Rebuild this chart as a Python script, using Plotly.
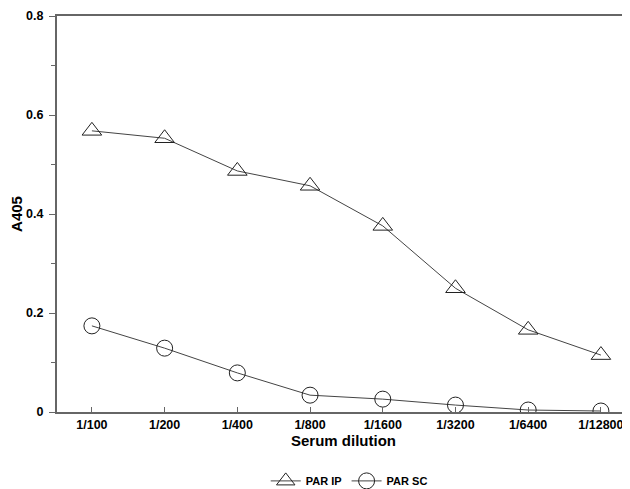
import plotly.graph_objects as go

categories = ["1/100", "1/200", "1/400", "1/800", "1/1600", "1/3200", "1/6400", "1/12800"]
par_ip = [0.568, 0.553, 0.487, 0.457, 0.376, 0.250, 0.166, 0.115]
par_sc = [0.174, 0.129, 0.079, 0.034, 0.026, 0.014, 0.004, 0.002]
y_ticks = [0, 0.2, 0.4, 0.6, 0.8]
y_tick_labels = ["0", "0.2", "0.4", "0.6", "0.8"]

FONT = "Liberation Sans, Arial, sans-serif"

fig = go.Figure()
fig.add_trace(go.Scatter(
    x=list(range(len(categories))), y=par_ip, name="<b>PAR IP</b>",
    mode="lines+markers",
    line=dict(color="#444444", width=1),
    marker=dict(symbol="triangle-up-open", size=17, color="#222222", line=dict(width=1)),
))
fig.add_trace(go.Scatter(
    x=list(range(len(categories))), y=par_sc, name="<b>PAR SC</b>",
    mode="lines+markers",
    line=dict(color="#444444", width=1),
    marker=dict(symbol="circle-open", size=16, color="#222222", line=dict(width=1)),
))

fig.update_layout(
    width=622, height=481,
    margin=dict(l=49, r=0, t=8, b=77, autoexpand=False),
    paper_bgcolor="white", plot_bgcolor="white",
    font=dict(family=FONT, color="black", size=12),
    showlegend=True,
    legend=dict(orientation="h", x=0.51, xanchor="center", y=-0.174, yanchor="middle",
                font=dict(size=11, family=FONT), itemwidth=30),
    xaxis=dict(
        range=[-0.48, 7.4], automargin=False,
        tickmode="array", tickvals=list(range(len(categories))), ticktext=["<b>%s</b>" % c for c in categories],
        showline=True, linecolor="#666666", linewidth=2, mirror=True,
        ticks="inside", ticklen=5, tickcolor="#666666",
        showgrid=False, zeroline=False,
        tickfont=dict(size=12.5, family=FONT),
        title=dict(text="<b>Serum dilution</b>", font=dict(size=15, family=FONT), standoff=0),
    ),
    yaxis=dict(
        range=[0, 0.8], automargin=False,
        tickmode="array", tickvals=y_ticks, ticktext=["<b>%s</b>" % t for t in y_tick_labels],
        showline=True, linecolor="#666666", linewidth=2,
        ticks="outside", ticklen=6, tickcolor="#666666",
        ticklabelstandoff=3,
        minor=dict(tickvals=[0.1, 0.3, 0.5, 0.7], ticks="outside", ticklen=4, tickcolor="#666666"),
        showgrid=False, zeroline=False,
        tickfont=dict(size=12.5, family=FONT),
        title=dict(text="<b>A405</b>", font=dict(size=15, family=FONT), standoff=8),
    ),
)

fig.write_html("out.html")
